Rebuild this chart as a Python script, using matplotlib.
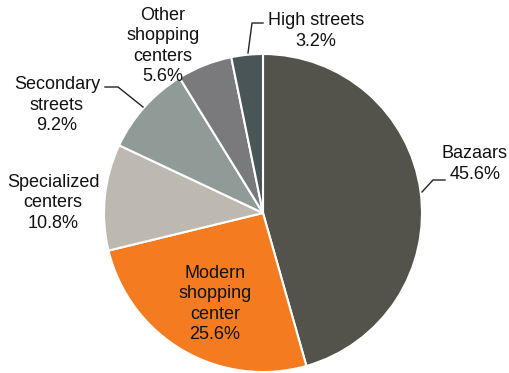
import matplotlib.pyplot as plt

plt.rcParams['font.family'] = ['Liberation Sans', 'DejaVu Sans']

# shares of retail space by format, clockwise from 12 o'clock
segments = ["Bazaars", "Modern\nshopping\ncenter", "Specialized\ncenters",
            "Secondary\nstreets", "Other\nshopping\ncenters", "High streets"]
shares = [45.6, 25.6, 10.8, 9.2, 5.6, 3.2]
colors = ["#53534b", "#f47b20", "#bdb9b0", "#909b98", "#7a7a7c", "#4a5558"]

H = 373


def main():
    fig = plt.figure(figsize=(5.10, 3.73), dpi=100)
    ax = fig.add_axes([0, 0, 1, 1])

    # pie in pixel-like coordinates, y measured upwards
    ax.pie(shares, colors=colors, startangle=90, counterclock=False,
           center=(263, H - 213), radius=159, frame=True,
           wedgeprops=dict(edgecolor="white", linewidth=1.5))
    ax.set_xlim(0, 510)
    ax.set_ylim(0, H)
    ax.set_aspect("equal")
    ax.axis("off")

    # label centres (x, y from top)
    label_pos = [(475, 164), (215, 304), (53, 203), (57, 105), (163, 46), (316, 31)]
    for name, val, (x, y) in zip(segments, shares, label_pos):
        ax.text(x, H - y, "%s\n%.1f%%" % (name, val), ha="center", va="center",
                fontsize=13, linespacing=1.27, color="#111111")

    # leader lines
    leaders = [
        [(422, 192), (433, 180), (445, 180)],
        [(143, 107), (118, 87), (105, 87)],
        [(248, 53), (252, 23), (263, 23)],
    ]
    for pts in leaders:
        xs = [p[0] for p in pts]
        ys = [H - p[1] for p in pts]
        ax.plot(xs, ys, color="#222222", lw=1)

    plt.savefig("out.png", dpi=100)


if __name__ == '__main__':
    main()
